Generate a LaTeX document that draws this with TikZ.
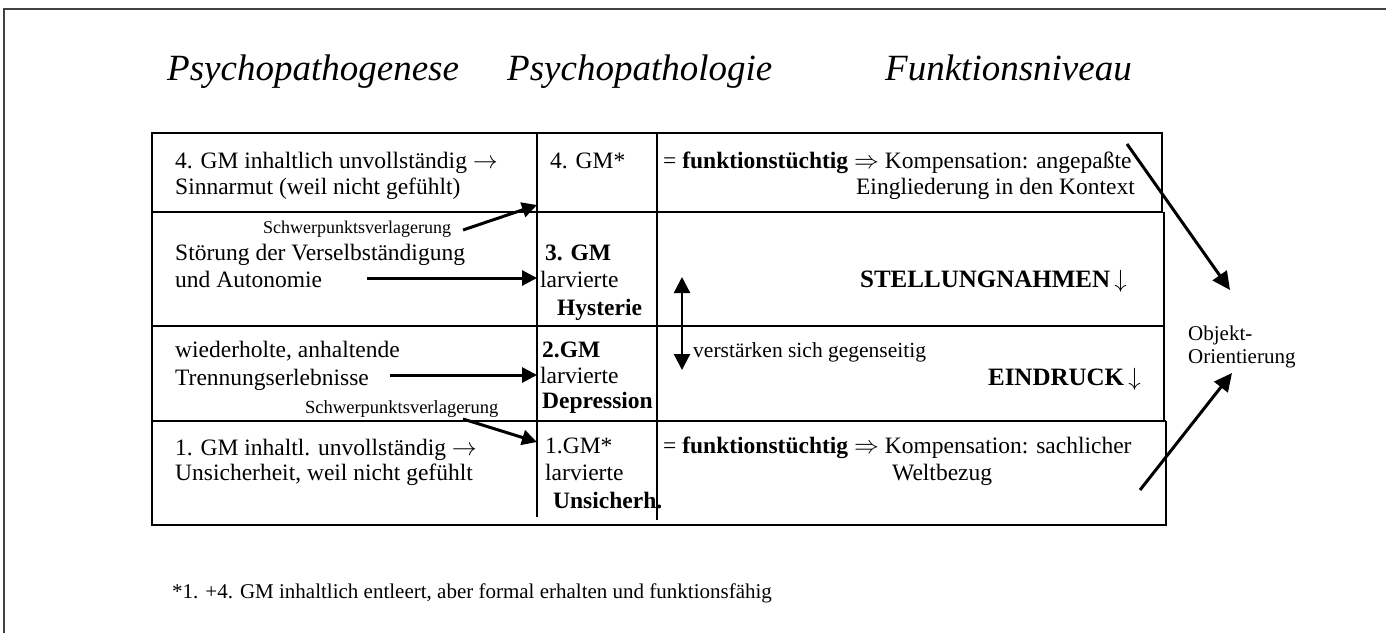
\documentclass[tikz,border=0pt]{standalone}
\usepackage{fontspec}
\setmainfont{Liberation Serif}
\usepackage{tikz}
\usetikzlibrary{arrows.meta}
\usetikzlibrary{positioning}

\tikzset{
  txt/.style={anchor=base west, inner sep=0pt, font=\fontsize{23.5}{26}\selectfont},
  txtr/.style={anchor=base east, inner sep=0pt, font=\fontsize{23.5}{26}\selectfont},
  bigb/.style={anchor=base east, inner sep=0pt, font=\fontsize{25}{28}\selectfont\bfseries},
  sml/.style={anchor=base west, inner sep=0pt, font=\fontsize{18}{20}\selectfont},
  mid/.style={anchor=base west, inner sep=0pt, font=\fontsize{21}{24}\selectfont},
  head/.style={anchor=base west, inner sep=0pt, font=\fontsize{37}{40}\selectfont\itshape},
  grid/.style={line width=1.6pt},
  pfeil/.style={line width=3pt, -{Triangle[length=15pt,width=15pt]}},
  langpfeil/.style={line width=3pt, -{Triangle[length=18pt,width=17pt]}},
}

\begin{document}
\begin{tikzpicture}[x=1pt,y=-1pt]
\useasboundingbox (0,0) rectangle (1386,633);
% frame
\draw[line width=1.4pt, black!75] (4,633) -- (4,9) -- (1386,9);

% headings
\node[head] (h0) at (167,80) {Psychopathogenese};
\node[head] (h1) at (507,80) {Psychopathologie};
\node[head] (h2) at (885,80) {Funktionsniveau};

% table
\draw[grid] (152,133) rectangle (1162,212);
\draw[grid] (152,212) -- (152,525) -- (1166,525) -- (1166,421);
\draw[grid] (1164,212) -- (1164,421);
\draw[grid] (152,326) -- (1164,326);
\draw[grid] (152,421) -- (1166,421);
\draw[grid] (537,133) -- (537,517);
\draw[grid] (657,133) -- (657,520);

% row 1
\node[txt] (a1) at (175,168) {4. GM inhaltlich unvollständig $\rightarrow$};
\node[txt] (a2) at (175,194) {Sinnarmut (weil nicht gefühlt)};
\node[txt] (b1) at (550,168) {4. GM*};
\node[txt] (c1) at (663,168) {= \textbf{funktionstüchtig} $\Rightarrow$ Kompensation: angepaßte};
\node[txtr] (c2) at (1135,194) {Eingliederung in den Kontext};

% row 2
\node[sml] (s1) at (263,233) {Schwerpunktsverlagerung};
\node[txt] (a3) at (175,260) {Störung der Verselbständigung};
\node[txt] (a4) at (175,287) {und Autonomie};
\node[txt] (b2) at (545,260) {\textbf{3. GM}};
\node[txt] (b3) at (540,287) {larvierte};
\node[txt] (b4) at (557,315) {\textbf{Hysterie}};
\node[bigb] (c3) at (1127,287) {STELLUNGNAHMEN\,$\downarrow$};

% row 3
\node[txt] (a5) at (175,357) {wiederholte, anhaltende};
\node[txt] (a6) at (175,385) {Trennungserlebnisse};
\node[sml, font=\fontsize{18.5}{20}\selectfont] (s2) at (305,413) {Schwerpunktsverlagerung};
\node[txt] (b5) at (542,357) {\textbf{2.GM}};
\node[txt] (b6) at (540,383) {larvierte};
\node[txt] (b7) at (542,408) {\textbf{Depression}};
\node[mid, font=\fontsize{21.5}{24}\selectfont] (c4) at (693,357) {verstärken sich gegenseitig};
\node[bigb] (c5) at (1141,385) {EINDRUCK\,$\downarrow$};

% row 4
\node[txt] (a7) at (175,455) {1. GM inhaltl. unvollständig $\rightarrow$};
\node[txt] (a8) at (175,480) {Unsicherheit, weil nicht gefühlt};
\node[txt] (b8) at (545,453) {1.GM*};
\node[txt] (b9) at (545,480) {larvierte};
\node[txt] (b10) at (553,508) {\textbf{Unsicherh.}};
\node[txt] (c6) at (663,453) {= \textbf{funktionstüchtig} $\Rightarrow$ Kompensation: sachlicher};
\node[txt] (c7) at (892,480) {Weltbezug};

% right side
\node[mid] (o1) at (1188,340) {Objekt-};
\node[mid] (o2) at (1188,363) {Orientierung};

% footnote
\node[mid, font=\fontsize{21}{24}\selectfont] (fn) at (172,598) {*1. +4. GM inhaltlich entleert, aber formal erhalten und funktionsfähig};

% arrows
\coordinate (p1) at (463,230);
\coordinate (q1) at (537,205);
\coordinate (p2) at (367,278);
\coordinate (q2) at (537,278);
\coordinate (p3) at (390,375);
\coordinate (q3) at (537,375);
\coordinate (p4) at (463,419);
\coordinate (q4) at (537,442);
\coordinate (u1) at (682,277);
\coordinate (u2) at (682,370);
\coordinate (r1) at (1127,144);
\coordinate (r2) at (1230,290);
\coordinate (r3) at (1140,490);
\coordinate (r4) at (1232,373);
\draw[pfeil] (p1) -- (q1);
\draw[pfeil] (p2) -- (q2);
\draw[pfeil] (p3) -- (q3);
\draw[pfeil] (p4) -- (q4);
\draw[line width=2.2pt, {Triangle[length=16pt,width=16pt]}-{Triangle[length=16pt,width=16pt]}] (u1) -- (u2);
\draw[langpfeil] (r1) -- (r2);
\draw[langpfeil] (r3) -- (r4);
\end{tikzpicture}
\end{document}
